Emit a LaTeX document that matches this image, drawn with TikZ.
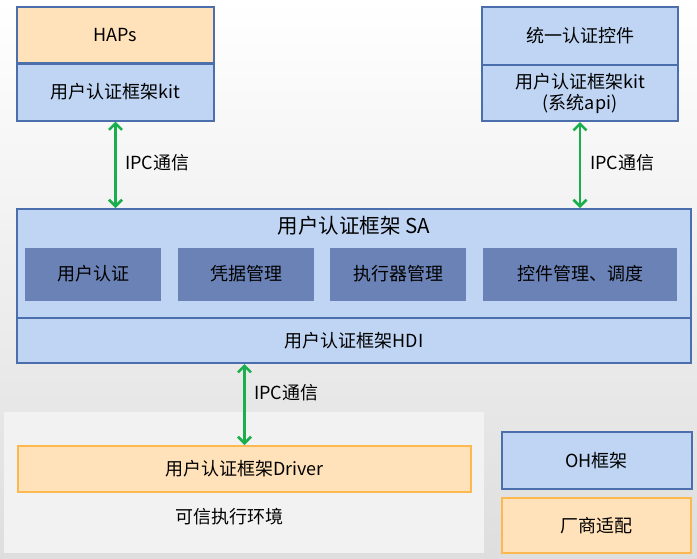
\documentclass[tikz,border=0pt]{standalone}
\usepackage{fontspec}
\setmainfont{Noto Sans CJK SC}
\usetikzlibrary{arrows.meta}
\definecolor{bfill}{HTML}{BFD5F3}
\definecolor{bline}{HTML}{4A6FAC}
\definecolor{ifill}{HTML}{6A82B6}
\definecolor{ofill}{HTML}{FFE2B9}
\definecolor{oline}{HTML}{FDB94F}
\definecolor{ipcgreen}{HTML}{1AAE4C}
\definecolor{teefill}{HTML}{F2F2F2}
\definecolor{bgbottom}{HTML}{DEDEDE}
\tikzset{
  txt/.style={font=\fontsize{18}{21}\selectfont, text=black, align=center},
  bluebox/.style={txt, draw=bline, fill=bfill, line width=2pt, inner sep=0pt},
  orangebox/.style={txt, draw=oline, fill=ofill, line width=2pt, inner sep=0pt},
  innerbox/.style={txt, fill=ifill, inner sep=0pt},
  ipc/.style={draw=ipcgreen, line width=2.6pt, {Straight Barb[length=6.5pt,width=13pt,line width=2.6pt]}-{Straight Barb[length=6.5pt,width=13pt,line width=2.6pt]}},
  ipclabel/.style={txt, anchor=west, inner sep=0pt}
}
\begin{document}
\begin{tikzpicture}[x=1pt,y=-1pt]
\shade[top color=white, bottom color=bgbottom] (0,0) rectangle (697,558);
\useasboundingbox (0,0) rectangle (697,558);
% trusted environment region
\fill[teefill] (3.5,412) rectangle (484,553);
% top left
\node[bluebox, fill=ofill, minimum width=197pt, minimum height=56pt] (haps) at (115.5,35) {HAPs};
\node[bluebox, minimum width=197pt, minimum height=57pt] (kitL) at (115.5,92) {用户认证框架kit};
% top right
\node[bluebox, minimum width=196pt, minimum height=58pt] (ctrl) at (580,36) {统一认证控件};
\node[bluebox, minimum width=196pt, minimum height=56pt] (kitR) at (580,93) {用户认证框架kit\\(系统api)};
% SA container
\node[bluebox, minimum width=674pt, minimum height=154pt] (sa) at (354,286) {};
\node[txt, font=\fontsize{20.5}{22}\selectfont, inner sep=0pt] (satitle) at (354,226) {用户认证框架 SA};
\node[innerbox, minimum width=136pt, minimum height=53pt] (ua) at (93,274) {用户认证};
\node[innerbox, minimum width=136pt, minimum height=53pt] (cm) at (246,274) {凭据管理};
\node[innerbox, minimum width=136pt, minimum height=53pt] (em) at (398,274) {执行器管理};
\node[innerbox, minimum width=194pt, minimum height=53pt] (cs) at (580,274) {控件管理、调度};
\node[bluebox, minimum width=674pt, minimum height=45pt] (hdi) at (354,340.5) {用户认证框架HDI};
% TEE
\node[orangebox, minimum width=453pt, minimum height=46pt] (drv) at (244.5,469) {用户认证框架Driver};
\node[txt, inner sep=0pt] (teelabel) at (229,516.5) {可信执行环境};
% legend
\node[bluebox, minimum width=190pt, minimum height=57pt] (oh) at (596.5,460.5) {OH框架};
\node[orangebox, minimum width=189pt, minimum height=55pt] (vendor) at (596.5,525.5) {厂商适配};
% IPC arrows
\draw[ipc] (kitL.south) -- (kitL.south |- sa.north);
\node[ipclabel] (ipc1) at (125,163) {IPC通信};
\draw[ipc] (kitR.south) -- (kitR.south |- sa.north);
\node[ipclabel] (ipc2) at (590,163) {IPC通信};
\draw[ipc] (drv.north |- hdi.south) -- (drv.north);
\node[ipclabel] (ipc3) at (254,393) {IPC通信};
\end{tikzpicture}
\end{document}
